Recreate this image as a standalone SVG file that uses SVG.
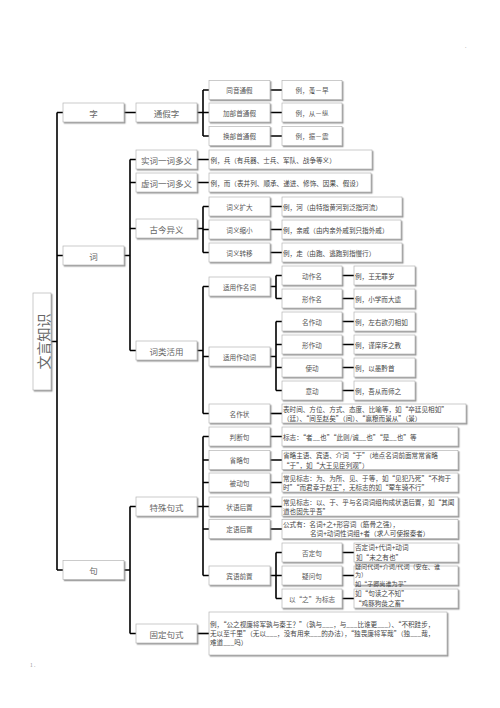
<svg xmlns="http://www.w3.org/2000/svg" width="500" height="708" viewBox="0 0 500 708">
<defs>
<filter id="sh" x="-10%" y="-20%" width="130%" height="160%"><feDropShadow dx="1.2" dy="1.3" stdDeviation="0.5" flood-color="#777" flood-opacity="0.75"/></filter>
<style>
text{font-family:"Noto Sans CJK SC","Noto Sans",sans-serif;dominant-baseline:central;fill:#555}
rect{fill:#fff;stroke:#b5b5b5;stroke-width:0.7;filter:url(#sh)}
.c path{stroke:#000;stroke-width:1.6;fill:none}
.h{font-size:8.5px;text-anchor:middle;fill:#666}
.m{font-size:6.6px;text-anchor:middle}
.e{font-size:6.6px;text-anchor:start;fill:#444}
.s{font-size:6.1px}
.r{font-size:14px;text-anchor:middle;fill:#666}
.k{font-size:5px;fill:#999}
</style>
</defs>
<rect width="500" height="708" style="fill:#fff;stroke:none;filter:none"/>
<g class="c">
<path d="M51 341.5H57M57 112.5V570M57 112.5H63M57 255.5H63M57 570H63"/>
<path d="M124 112.5H136M197 112.5H203M203 90V136M203 90H209M203 112.5H209M203 136H209M270 90H282M270 112.5H282M270 136H282"/>
<path d="M124 255.5H130M130 159.5V350.5M130 159.5H136M130 182.5H136M130 228.5H136M130 350.5H136M197 159.5H209M197 182.5H209"/>
<path d="M197 228.5H203M203 206.5V252.5M203 206.5H209M203 229.5H209M203 252.5H209M270 206.5H282M270 229.5H282M270 252.5H282"/>
<path d="M197 350.5H203M203 286.5V413.5M203 286.5H209M203 356.5H209M203 413.5H209"/>
<path d="M270 286.5H276M276 275.5V298.5M276 275.5H282M276 298.5H282M342 275.5H354M342 298.5H354"/>
<path d="M270 356.5H276M276 321.5V390.5M276 321.5H282M276 344.5H282M276 367.5H282M276 390.5H282M342 321.5H354M342 344.5H354M342 367.5H354M342 390.5H354"/>
<path d="M270 413.5H282"/>
<path d="M124 570H130M130 506.5V633.5M130 506.5H136M130 633.5H136"/>
<path d="M197 506.5H203M203 436.5V575.5M203 436.5H209M203 460H209M203 482.5H209M203 506.5H209M203 529H209M203 575.5H209M270 436.5H282M270 460H282M270 482.5H282M270 506.5H282M270 529H282"/>
<path d="M270 575.5H276M276 552.5V598.5M276 552.5H282M276 575.5H282M276 598.5H282M342 552.5H354M342 575.5H354M342 598.5H354"/>
<path d="M197 633.5H209"/>
</g>
<g id="root"><rect x="33" y="293" width="18" height="97"/><text class="r" transform="translate(42.5 341.5) rotate(-90)">文言知识</text></g>
<g id="zi"><rect x="63" y="103" width="61" height="19"/><text class="h" x="93.5" y="112.5">字</text></g>
<g id="ci"><rect x="63" y="246" width="61" height="19"/><text class="h" x="93.5" y="255.5">词</text></g>
<g id="ju"><rect x="63" y="560.5" width="61" height="19"/><text class="h" x="93.5" y="570">句</text></g>
<g id="tongjia"><rect x="136" y="103" width="61" height="19"/><text class="h" x="166.5" y="112.5">通假字</text></g>
<g id="shici"><rect x="136" y="150" width="61" height="19"/><text class="h" x="166.5" y="159.5">实词一词多义</text></g>
<g id="xuci"><rect x="136" y="173" width="61" height="19"/><text class="h" x="166.5" y="182.5">虚词一词多义</text></g>
<g id="gujin"><rect x="136" y="219" width="61" height="19"/><text class="h" x="166.5" y="228.5">古今异义</text></g>
<g id="cilei"><rect x="136" y="341" width="61" height="19"/><text class="h" x="166.5" y="350.5">词类活用</text></g>
<g id="teshu"><rect x="136" y="497" width="61" height="19"/><text class="h" x="166.5" y="506.5">特殊句式</text></g>
<g id="guding"><rect x="136" y="624" width="61" height="19"/><text class="h" x="166.5" y="633.5">固定句式</text></g>
<g id="tongyin"><rect x="209" y="80.5" width="61" height="19"/><text class="m" x="239.5" y="90">同音通假</text></g>
<g id="jiabu"><rect x="209" y="103" width="61" height="19"/><text class="m" x="239.5" y="112.5">加部首通假</text></g>
<g id="huanbu"><rect x="209" y="126.5" width="61" height="19"/><text class="m" x="239.5" y="136">换部首通假</text></g>
<g id="ex-tongyin"><rect x="282" y="80.5" width="60" height="19"/><text class="m" x="312" y="90">例，蚤－早</text></g>
<g id="ex-jiabu"><rect x="282" y="103" width="60" height="19"/><text class="m" x="312" y="112.5">例，从－纵</text></g>
<g id="ex-huanbu"><rect x="282" y="126.5" width="60" height="19"/><text class="m" x="312" y="136">例，振－震</text></g>
<g id="ex-shici"><rect x="209" y="150" width="163" height="19"/><text class="e" x="210.5" y="159.5">例，兵（有兵器、士兵、军队、战争等义）</text></g>
<g id="ex-xuci"><rect x="209" y="173" width="162" height="19"/><text class="e" x="210.5" y="182.5" textLength="152">例，而（表并列、顺承、递进、修饰、因果、假设）</text></g>
<g id="kuoda"><rect x="209" y="197" width="61" height="19"/><text class="m" x="239.5" y="206.5">词义扩大</text></g>
<g id="suoxiao"><rect x="209" y="220" width="61" height="19"/><text class="m" x="239.5" y="229.5">词义缩小</text></g>
<g id="zhuanyi"><rect x="209" y="243" width="61" height="19"/><text class="m" x="239.5" y="252.5">词义转移</text></g>
<g id="ex-kuoda"><rect x="282" y="197" width="120" height="19"/><text class="e" x="283" y="206.5">例，河（由特指黄河到泛指河流）</text></g>
<g id="ex-suoxiao"><rect x="282" y="220" width="119" height="19"/><text class="e" x="283" y="229.5">例，亲戚（由内亲外戚到只指外戚）</text></g>
<g id="ex-zhuanyi"><rect x="282" y="243" width="120" height="19"/><text class="e" x="283" y="252.5">例，走（由跑、逃跑到指慢行）</text></g>
<g id="mingci"><rect x="209" y="277" width="61" height="19"/><text class="m" x="239.5" y="286.5">适用作名词</text></g>
<g id="dongci"><rect x="209" y="347" width="61" height="19"/><text class="m" x="239.5" y="356.5">适用作动词</text></g>
<g id="mingzuozhuang"><rect x="209" y="404" width="61" height="19"/><text class="m" x="239.5" y="413.5">名作状</text></g>
<g id="dongzuoming"><rect x="282" y="266" width="60" height="19"/><text class="m" x="312" y="275.5">动作名</text></g>
<g id="xingzuoming"><rect x="282" y="289" width="60" height="19"/><text class="m" x="312" y="298.5">形作名</text></g>
<g id="mingzuodong"><rect x="282" y="312" width="60" height="19"/><text class="m" x="312" y="321.5">名作动</text></g>
<g id="xingzuodong"><rect x="282" y="335" width="60" height="19"/><text class="m" x="312" y="344.5">形作动</text></g>
<g id="shidong"><rect x="282" y="358" width="60" height="19"/><text class="m" x="312" y="367.5">使动</text></g>
<g id="yidong"><rect x="282" y="381" width="60" height="19"/><text class="m" x="312" y="390.5">意动</text></g>
<g id="ex-dongzuoming"><rect x="354" y="266" width="61" height="19"/><text class="e" x="355" y="275.5">例，王无罪岁</text></g>
<g id="ex-xingzuoming"><rect x="354" y="289" width="61" height="19"/><text class="e" x="355" y="298.5">例，小学而大遗</text></g>
<g id="ex-mingzuodong"><rect x="354" y="312" width="61" height="19"/><text class="e" x="355" y="321.5">例，左右欲刃相如</text></g>
<g id="ex-xingzuodong"><rect x="354" y="335" width="61" height="19"/><text class="e" x="355" y="344.5">例，谨庠序之教</text></g>
<g id="ex-shidong"><rect x="354" y="358" width="61" height="19"/><text class="e" x="355" y="367.5">例，以愚黔首</text></g>
<g id="ex-yidong"><rect x="354" y="381" width="61" height="19"/><text class="e" x="355" y="390.5">例，吾从而师之</text></g>
<g id="ex-mingzuozhuang"><rect x="282" y="404" width="184" height="19"/><text class="e" x="283" y="408.5">表时间、方位、方式、态度、比喻等，如“卒廷见相如”</text><text class="e" x="283" y="417.5">（廷）、“间至赵矣”（间）、“赢粮而景从”（景）</text></g>
<g id="panduan"><rect x="209" y="427" width="61" height="19"/><text class="m" x="239.5" y="436.5">判断句</text></g>
<g id="shenglve"><rect x="209" y="450.5" width="61" height="19"/><text class="m" x="239.5" y="460">省略句</text></g>
<g id="beidong"><rect x="209" y="473" width="61" height="19"/><text class="m" x="239.5" y="482.5">被动句</text></g>
<g id="zhuangyu"><rect x="209" y="497" width="61" height="19"/><text class="m" x="239.5" y="506.5">状语后置</text></g>
<g id="dingyu"><rect x="209" y="519.5" width="61" height="19"/><text class="m" x="239.5" y="529">定语后置</text></g>
<g id="binyu"><rect x="209" y="566" width="61" height="19"/><text class="m" x="239.5" y="575.5">宾语前置</text></g>
<g id="ex-panduan"><rect x="282" y="427" width="176" height="19"/><text class="e" x="283" y="436.5">标志：“者__也”“此则/诚__也”“是__也”等</text></g>
<g id="ex-shenglve"><rect x="282" y="450.5" width="176" height="19"/><text class="e" x="283" y="455">省略主语、宾语、介词“于”（地点名词前面常常省略</text><text class="e" x="283" y="464.5">“于”，如“大王见臣列观”）</text></g>
<g id="ex-beidong"><rect x="282" y="473" width="176" height="19"/><text class="e" x="283" y="477.5">常见标志：为、为所、见、于等，如“见犯乃死”“不拘于</text><text class="e" x="283" y="487">时”“而君幸于赵王”，无标志的如“荤车骑不行”</text></g>
<g id="ex-zhuangyu"><rect x="282" y="497" width="176" height="19"/><text class="e" x="283" y="501.5">常见标志：以、于、乎与名词词组构成状语后置，如“其闻</text><text class="e" x="283" y="511">道也固先乎吾”</text></g>
<g id="ex-dingyu"><rect x="282" y="519.5" width="176" height="19"/><text class="e" x="283" y="523.5">公式有：名词+之+形容词（筋骨之强），</text><text class="e" x="310" y="533">名词+动词性词组+者（求人可使报秦者）</text></g>
<g id="fouding"><rect x="282" y="543" width="60" height="19"/><text class="m" x="312" y="552.5">否定句</text></g>
<g id="yiwen"><rect x="282" y="566" width="60" height="19"/><text class="m" x="312" y="575.5">疑问句</text></g>
<g id="yizhi"><rect x="282" y="589" width="60" height="19"/><text class="m" x="312" y="598.5">以“之”为标志</text></g>
<g id="ex-fouding"><rect x="354" y="543" width="104" height="19"/><text class="e" x="355" y="546.5">否定词+代词+动词</text><text class="e" x="356" y="556.5">如“未之有也”</text></g>
<g id="ex-yiwen"><rect x="354" y="566" width="104" height="19"/><text class="e s" x="355" y="566">疑问代词+介词/代词（安在、谁</text><text class="e s" x="355" y="574.5">为）</text><text class="e s" x="355" y="583.5">如“子卿尚谁为乎”</text></g>
<g id="ex-yizhi"><rect x="354" y="589" width="104" height="19"/><text class="e" x="355" y="592.5">如“句读之不知”</text><text class="e" x="355" y="603">“鸡豚狗彘之畜”</text></g>
<g id="ex-guding"><rect x="209" y="612" width="238" height="43"/><text class="e" x="210" y="624">例，“公之视廉将军孰与秦王？”（孰与___，与___比谁更___）、“不积跬步，</text><text class="e" x="210" y="633">无以至千里”（无以___，没有用来___的办法），“独畏廉将军哉”（独___哉，</text><text class="e" x="210" y="642">难道___吗）</text></g>
<text class="k" x="465" y="45">.</text>
<text class="k" x="30" y="664">1 .</text>
</svg>
